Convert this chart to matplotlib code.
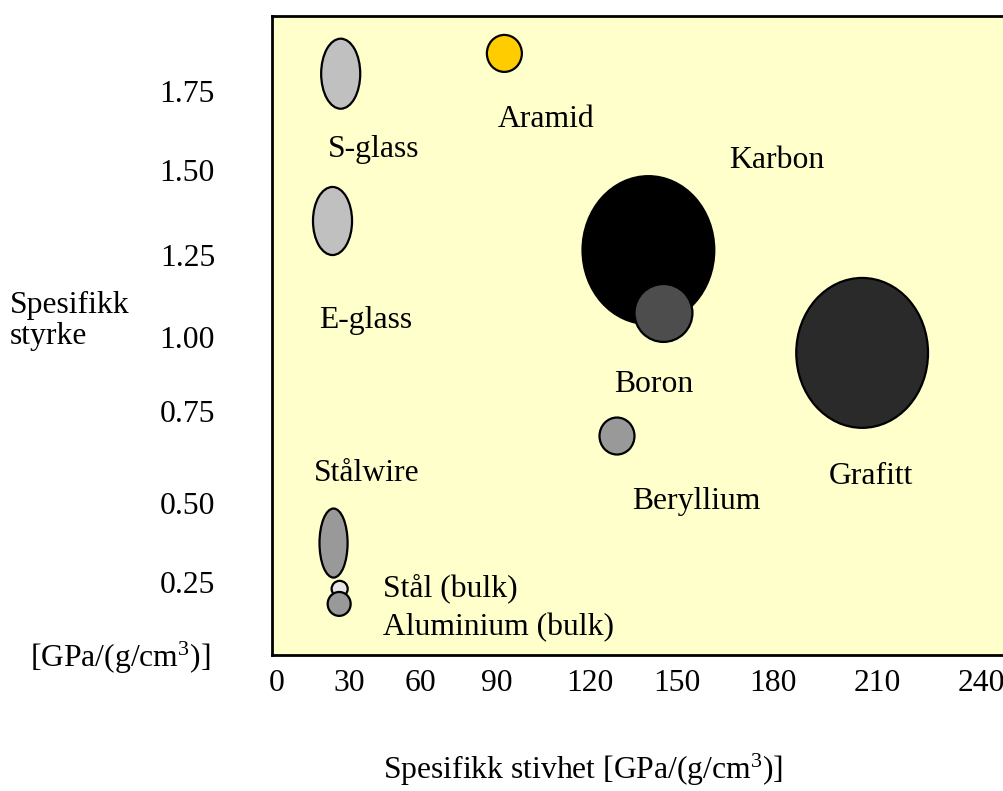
import matplotlib
matplotlib.use("Agg")
import matplotlib.pyplot as plt
from matplotlib.patches import Ellipse

plt.rcParams['font.family'] = ['Liberation Serif', 'DejaVu Serif']
plt.rcParams['mathtext.fontset'] = 'custom'
plt.rcParams['mathtext.rm'] = 'Liberation Serif'
plt.rcParams['mathtext.it'] = 'Liberation Serif:italic'

# ---- data ----
materials = ['S-glass', 'Aramid', 'E-glass', 'Karbon', 'Boron', 'Grafitt',
             'Beryllium', 'Stålwire', 'Stål (bulk)', 'Aluminium (bulk)']
stiffness = [26.9, 91.0, 23.7, 147.4, 153.3, 231.1, 135.1, 24.1, 26.5, 26.3]
strength = [1.802, 1.864, 1.352, 1.263, 1.071, 0.949, 0.695, 0.368, 0.228, 0.182]
stiffness_spread = [15.3, 13.7, 15.3, 51.6, 22.7, 51.6, 13.7, 11.0, 6.3, 9.0]
strength_spread = [0.214, 0.113, 0.208, 0.452, 0.177, 0.458, 0.113, 0.211, 0.049, 0.073]

x_tick_labels = ['0', '30', '60', '90', '120', '150', '180', '210', '240']
y_tick_labels = ['1.75', '1.50', '1.25', '1.00', '0.75', '0.50', '0.25']

# ---- styles / positions ----
face_colors = ['#C0C0C0', '#FFCC00', '#C0C0C0', '#000000', '#4D4D4D', '#2A2A2A',
               '#999999', '#999999', '#E6E6E6', '#999999']
# label anchor (x data, y data, ha)
label_pos = [(21.8, 1.547, 'left'), (88.3, 1.639, 'left'), (18.3, 1.025, 'left'),
             (179.1, 1.514, 'left'), (134.1, 0.829, 'left'), (234.6, 0.548, 'center'),
             (141.1, 0.472, 'left'), (16.3, 0.557, 'left'), (43.3, 0.206, 'left'),
             (43.3, 0.087, 'left')]
x_tick_pos = [1.9, 30.4, 58.2, 87.9, 124.7, 158.6, 196.2, 236.9, 277.7]
y_tick_pos = [1.7486, 1.5077, 1.248, 0.998, 0.772, 0.491, 0.25]

W, H = 1004, 791
fig = plt.figure(figsize=(W / 100, H / 100), dpi=100)
fig.patch.set_facecolor('white')

ax_left, ax_right, ax_top, ax_bottom = 272, 1012, 16, 655
ax = fig.add_axes([ax_left / W, 1 - ax_bottom / H,
                   (ax_right - ax_left) / W, (ax_bottom - ax_top) / H])
ax.set_facecolor('#FFFFCC')
px_per_x = 2.556
px_per_y = 327.3
ax.set_xlim(0, (ax_right - 271.3) / px_per_x)
ax.set_ylim((663.5 - ax_bottom) / px_per_y, (663.5 - ax_top) / px_per_y)
for side in ['left', 'top', 'bottom']:
    ax.spines[side].set_linewidth(2.0)
    ax.spines[side].set_color('black')
ax.spines['right'].set_visible(False)

FS = 22.8
for i, name in enumerate(materials):
    e = Ellipse((stiffness[i], strength[i]), stiffness_spread[i], strength_spread[i],
                facecolor=face_colors[i], edgecolor='black', linewidth=1.6, zorder=2 + i * 0.01)
    ax.add_patch(e)
    lx, ly, ha = label_pos[i]
    ax.text(lx, ly, name, fontsize=FS, ha=ha, va='baseline', color='black', zorder=5)

ax.set_xticks(x_tick_pos, labels=x_tick_labels)
ax.set_yticks(y_tick_pos, labels=y_tick_labels)
ax.tick_params(axis='both', length=0, labelsize=FS)
ax.tick_params(axis='x', pad=10)
ax.tick_params(axis='y', pad=41)

def fx(px):
    return px / W

def fy(py):
    return 1 - py / H

fig.text(fx(583), fy(779), r'Spesifikk stivhet [GPa/(g/cm$^{3}$)]', fontsize=FS,
         ha='center', va='baseline')
fig.text(fx(10), fy(313), 'Spesifikk', fontsize=FS, ha='left', va='baseline')
fig.text(fx(10), fy(344), 'styrke', fontsize=FS, ha='left', va='baseline')
fig.text(fx(120), fy(667), r'[GPa/(g/cm$^{3}$)]', fontsize=FS, ha='center', va='baseline')

fig.savefig('out.png', dpi=100)
